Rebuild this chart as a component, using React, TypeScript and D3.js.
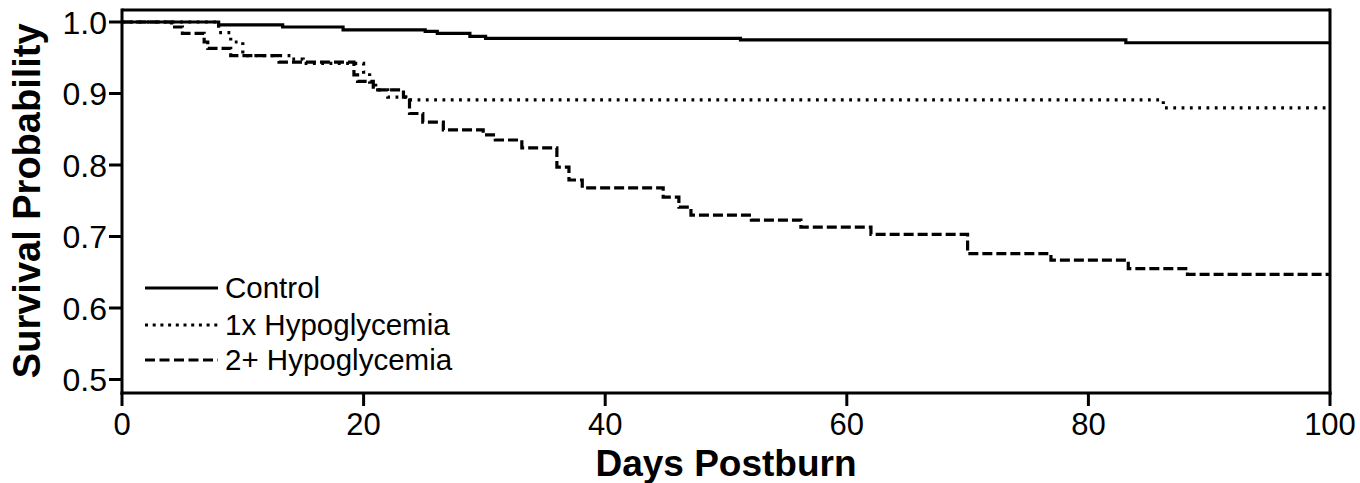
import React from "react";
import * as d3 from "d3";

// ---- Data ----
const seriesNames = ["Control", "1x Hypoglycemia", "2+ Hypoglycemia"];

const controlDays = [0, 8, 13.3, 18.3, 25.1, 26.1, 28.8, 30.1, 51.2, 83.1, 100];
const controlSurv = [1.0, 0.996, 0.993, 0.989, 0.987, 0.984, 0.98, 0.977, 0.975, 0.971, 0.971];

const hypo1Days = [0, 8, 9, 10, 14, 15, 20, 20.5, 21, 22, 23.5, 86.2, 100];
const hypo1Surv = [1.0, 0.985, 0.972, 0.953, 0.948, 0.942, 0.93, 0.916, 0.905, 0.895, 0.891, 0.88, 0.88];

const hypo2Days = [0, 4.1, 5, 6.8, 7.1, 9, 13, 19.2, 19.5, 20.8, 23.3, 23.8, 24.9, 26.6, 29.9, 30.9, 33.1, 36, 37, 38.1, 44.8, 46.1, 47.1, 52.1, 56.2, 62, 70, 76.9, 83.3, 88.2, 100];
const hypo2Surv = [1.0, 0.993, 0.984, 0.972, 0.963, 0.953, 0.944, 0.926, 0.917, 0.905, 0.895, 0.872, 0.86, 0.849, 0.842, 0.835, 0.824, 0.797, 0.779, 0.768, 0.755, 0.741, 0.73, 0.723, 0.713, 0.703, 0.676, 0.667, 0.655, 0.647, 0.647];

const xTicks = [0, 20, 40, 60, 80, 100];
const yTicks = [0.5, 0.6, 0.7, 0.8, 0.9, 1.0];

const xTitle = "Days Postburn";
const yTitle = "Survival Probability";

const FONT = "'Liberation Sans', Arial, Helvetica, sans-serif";

export default function App() {
  const W = 1360;
  const H = 483;
  const left = 122;
  const right = 1330;
  const top = 10;
  const bottom = 393;

  const x = d3.scaleLinear().domain([0, 100]).range([left, right]);
  // 1.0 at y=22, 0.5 at y=379.5
  const yPer = (379.5 - 22) / 0.5;
  const y = d3
    .scaleLinear()
    .domain([1.0 - (bottom - 22) / yPer, 1.0 + (22 - top) / yPer])
    .range([bottom, top]);

  const line = d3
    .line<[number, number]>()
    .x((d) => x(d[0]))
    .y((d) => y(d[1]))
    .curve(d3.curveStepAfter);

  const zip = (a: number[], b: number[]) => a.map((v, i) => [v, b[i]] as [number, number]);

  const series = [
    { name: seriesNames[0], data: zip(controlDays, controlSurv), dash: "none", w: 3.2 },
    { name: seriesNames[1], data: zip(hypo1Days, hypo1Surv), dash: "2.8,5.5", w: 3.2 },
    { name: seriesNames[2], data: zip(hypo2Days, hypo2Surv), dash: "10,4", w: 3.2 },
  ];

  const legendY = [288, 325, 360];

  return (
    <svg
      width={W}
      height={H}
      style={{ position: "absolute", left: 0, top: 0, background: "#fff" }}
      fontFamily={FONT}
    >
      <rect x={0} y={0} width={W} height={H} fill="#fff" />
      {/* curves */}
      <g fill="none" stroke="#000">
        {series.map((s) => (
          <path
            key={s.name}
            d={line(s.data) || ""}
            strokeWidth={s.w}
            strokeDasharray={s.dash}
          />
        ))}
      </g>
      {/* frame */}
      <g stroke="#000" strokeWidth={3} fill="none">
        <line x1={left} x2={right} y1={top} y2={top} />
        <line x1={right} x2={right} y1={top - 1.5} y2={bottom + 1.5} />
        <line x1={left} x2={left} y1={top - 1.5} y2={bottom + 1.5} />
        <line x1={left - 1.5} x2={right + 1.5} y1={bottom} y2={bottom} />
      </g>
      {/* y ticks */}
      <g>
        {yTicks.map((t) => (
          <g key={t}>
            <line x1={left - 13} x2={left} y1={y(t)} y2={y(t)} stroke="#000" strokeWidth={3} />
            <text
              x={107}
              y={y(t)}
              dy="0.36em"
              textAnchor="end"
              fontSize={32}
              fill="#000"
            >
              {t.toFixed(1)}
            </text>
          </g>
        ))}
      </g>
      {/* x ticks */}
      <g>
        {xTicks.map((t) => (
          <g key={t}>
            <line x1={x(t)} x2={x(t)} y1={bottom} y2={bottom + 13} stroke="#000" strokeWidth={3} />
            <text x={x(t)} y={435} textAnchor="middle" fontSize={31} fill="#000">
              {t}
            </text>
          </g>
        ))}
      </g>
      {/* axis titles */}
      <text
        x={(left + right) / 2}
        y={476}
        textAnchor="middle"
        fontSize={37}
        fontWeight="bold"
        fill="#000"
      >
        {xTitle}
      </text>
      <text
        transform={`translate(40, ${(22 + 379.5) / 2}) rotate(-90)`}
        textAnchor="middle"
        fontSize={38}
        fontWeight="bold"
        fill="#000"
      >
        {yTitle}
      </text>
      {/* legend */}
      <g>
        {series.map((s, i) => (
          <g key={s.name}>
            <line
              x1={145}
              x2={218}
              y1={legendY[i]}
              y2={legendY[i]}
              stroke="#000"
              strokeWidth={3}
              strokeDasharray={i === 1 ? "3,4.7" : i === 2 ? "10,4.5" : "none"}
            />
            <text x={225} y={legendY[i] + 10} fontSize={29.5} fill="#000">
              {s.name}
            </text>
          </g>
        ))}
      </g>
    </svg>
  );
}
